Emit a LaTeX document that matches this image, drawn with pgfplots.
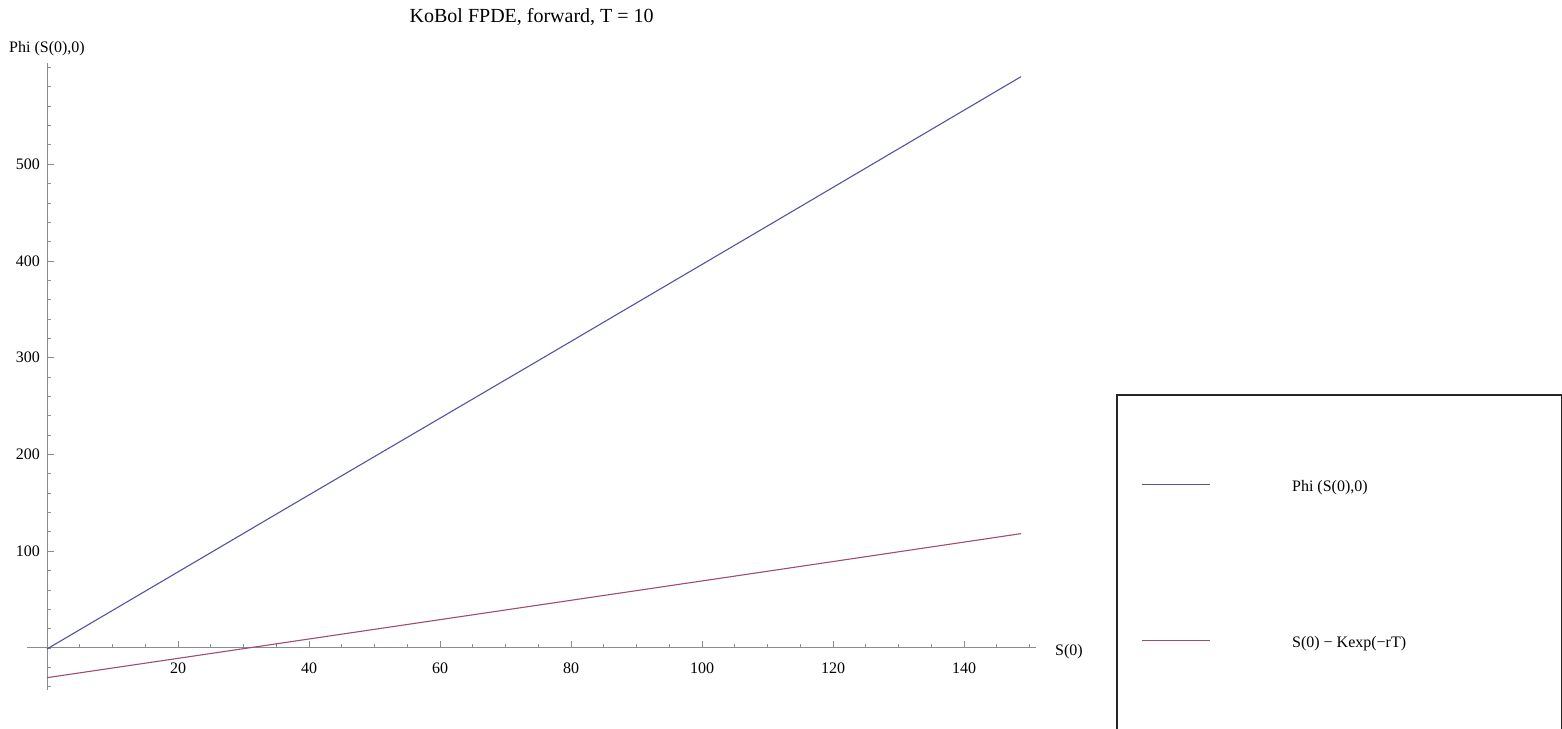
\documentclass[border=0pt]{standalone}
\usepackage{pgfplots}
\pgfplotsset{compat=1.18}
\usepackage{fontspec}
\setmainfont{Liberation Serif}
\definecolor{mmablue}{rgb}{0.33,0.32,0.64}
\definecolor{mmared}{rgb}{0.62,0.3,0.46}
\definecolor{axgray}{gray}{0.55}
\begin{document}
\begin{tikzpicture}
\useasboundingbox (0,0) rectangle (781pt,364pt);
\begin{axis}[
  scale only axis,
  width=504.35pt, height=313.47pt,
  at={(13.675pt,19.2pt)}, anchor=south west,
  axis lines=middle,
  axis line style={axgray, line width=0.5pt, -},
  xmin=-3, xmax=151, ymin=-43, ymax=605,
  xtick={20,40,...,140},
  ytick={100,200,...,500},
  minor xtick={0,5,...,150},
  minor ytick={-40,-20,...,600},
  tick style={axgray, line width=0.4pt},
  major tick length=3.5pt,
  minor tick length=2.2pt,
  tick align=inside,
  font=\fontsize{8pt}{9.6pt}\selectfont,
  /pgf/number format/assume math mode=true,
  xticklabel style={font=\fontsize{8pt}{9.6pt}\selectfont, yshift=-4pt},
  yticklabel style={font=\fontsize{8pt}{9.6pt}\selectfont},
  title={KoBol FPDE, forward, T = 10},
  title style={font=\fontsize{10pt}{12pt}\selectfont, at={(0.5,1)}, anchor=base, yshift=14pt},
  xlabel={S(0)},
  x label style={at={(axis cs:151,0)}, anchor=west, xshift=6pt, yshift=-2pt, font=\fontsize{8pt}{9.6pt}\selectfont},
  ylabel={Phi (S(0),0)},
  y label style={at={(axis cs:0,605)}, anchor=base, rotate=0, yshift=5pt, font=\fontsize{8pt}{9.6pt}\selectfont},
  clip=false,
  legend cell align=left,
  legend image code/.code={\draw[#1] (0pt,0pt) -- (34pt,0pt);},
  legend style={
    at={(1.0793,0.4715)}, anchor=north west,
    draw=black!85, line width=1pt,
    inner xsep=12pt, inner ysep=41pt,
    row sep=70.5pt, column sep=41pt,
    nodes={inner sep=0pt},
    font=\fontsize{8pt}{9.6pt}\selectfont,
  },
]
\addplot[mmablue, line width=0.55pt] coordinates {(0,-1) (37,146.3) (75.3,298.2) (110,436.2) (148.7,590.5)};
\addlegendentry{\makebox[123pt][l]{\rule[-2pt]{0pt}{8pt}\raisebox{-1.2pt}{Phi (S(0),0)}}}
\addplot[mmared, line width=0.55pt] coordinates {(0,-30.7) (37,6.3) (75.3,44.6) (110,79.3) (148.7,118.2)};
\addlegendentry{\makebox[123pt][l]{\rule[-2pt]{0pt}{8pt}\raisebox{-1.2pt}{S(0) − Kexp(−rT)}}}
\end{axis}
\end{tikzpicture}
\end{document}
